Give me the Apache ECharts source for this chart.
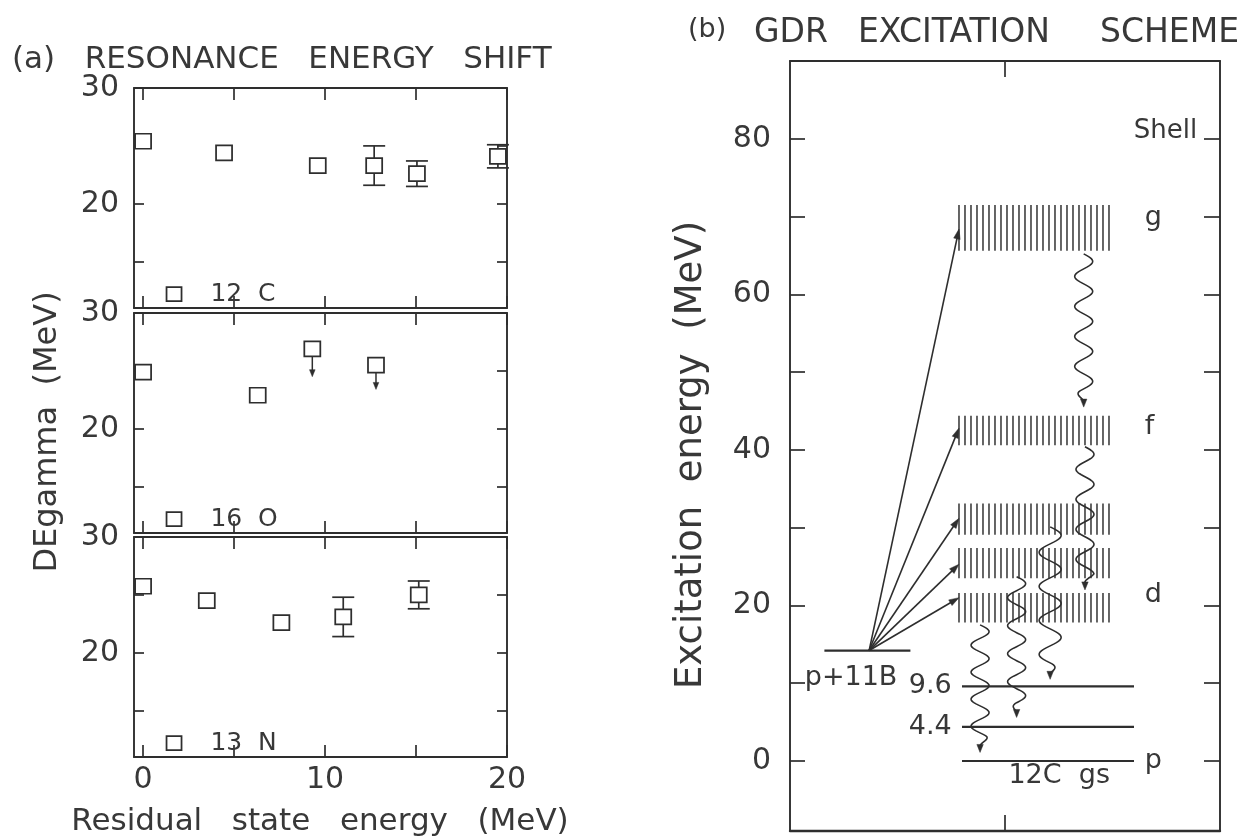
<!DOCTYPE html>
<html><head><meta charset="utf-8">
<script src="https://cdn.jsdelivr.net/npm/echarts@6/dist/echarts.min.js"></script>
<style>html,body{margin:0;padding:0;background:#fff}#c{width:1252px;height:836px}</style>
</head><body><div id="c"></div>
<script>
// ---------- panel (a): resonance energy shift ----------
const c12X = [0, 4.45, 9.6, 12.7, 15.05, 19.5];
const c12Y = [25.4, 24.4, 23.3, 23.3, 22.6, 24.1];
const c12Err = [0, 0, 0, 1.7, 1.1, 1.0];
const o16X = [0, 6.3, 9.3, 12.8];
const o16Y = [24.9, 22.9, 26.9, 25.5];
const o16Limit = [null, null, 24.5, 23.4];
const n13X = [0, 3.5, 7.6, 11.0, 15.15];
const n13Y = [25.75, 24.5, 22.6, 23.1, 25.0];
const n13Err = [0, 0, 0, 1.7, 1.2];
const nucleusNames = ['12  C', '16  O', '13  N'];
const nucleusMarkX = [1.7, 1.7, 1.7];
const nucleusMarkY = [12.2, 12.2, 12.2];
const xTicksA = [0, 5, 10, 15, 20];
const xLabelsA = [0, 10, 20];
const yTicksA = [15, 20, 25, 30];
const yLabelsA = [20, 30];

// ---------- panel (b): GDR excitation scheme ----------
const entranceLevel = 14.2;
const entranceX = [8, 28];
const residualLevels = [9.6, 4.4, 0];
const residualX = [40, 80];
const bandLow = [17.8, 23.5, 29.1, 40.6, 65.6];
const bandHigh = [21.6, 27.4, 33.1, 44.4, 71.5];
const bandX = [39.3, 74.6];
const excitationOriginX = 18.4;
const excitationTipX = 39.3;
const excitationTipY = [21.0, 25.3, 31.2, 42.8, 68.4];
const gammaX = [68.3, 68.6, 60.5, 52.7, 44.2];
const gammaFrom = [65.2, 40.4, 30.1, 23.7, 17.5];
const gammaTo = [45.5, 22.0, 10.5, 5.6, 1.1];
const yTicksB = [0, 10, 20, 30, 40, 50, 60, 70, 80];
const yLabelsB = [0, 20, 40, 60, 80];
const annText = ['p+11B', '9.6', '4.4', '12C  gs', 'p', 'd', 'f', 'g', 'Shell'];
const annX = [14.2, 37.6, 37.6, 62.6, 82.5, 82.5, 82.5, 82.5, 94.7];
const annY = [10.7, 9.6, 4.4, -1.95, 0, 21.3, 42.9, 69.8, 81];

// ---------- styling ----------
const FONT = 'DejaVu Sans';
const INK = '#2e2e2e';
const TXT = '#383838';
const annAlign = ['center', 'right', 'right', 'center', 'left', 'left', 'left', 'left', 'right'];
const waveAmp = [9, 9, 11, 9, 9];
const waveLen = [30, 30, 34, 28, 27];

const chart = echarts.init(document.getElementById('c'), null, {renderer: 'canvas'});

const grid = [], xAxis = [], yAxis = [], series = [];
const gridTopsA = [88, 313, 537];
const panelsA = [
  {x: c12X, y: c12Y, err: c12Err, lim: null},
  {x: o16X, y: o16Y, err: null, lim: o16Limit},
  {x: n13X, y: n13Y, err: n13Err, lim: null}
];
const axLine = {show: true, onZero: false, lineStyle: {color: INK, width: 1.9}};
function tick(vals, len) {
  return {show: true, inside: true, length: len, customValues: vals, lineStyle: {color: INK, width: 1.7}};
}
function lab(vals, margin) {
  return {show: true, customValues: vals, fontSize: 30, fontFamily: FONT, color: TXT, margin: margin};
}
function arrowHead(tx, ty, dx, dy, L, W) {
  const n = Math.hypot(dx, dy); dx /= n; dy /= n;
  const bx = tx - dx * L, by = ty - dy * L;
  return {type: 'polygon', shape: {points: [[tx, ty], [bx - dy * W, by + dx * W], [bx + dy * W, by - dx * W]]},
    style: {fill: INK, stroke: INK, lineWidth: 0.5}};
}

gridTopsA.forEach((top, i) => {
  grid.push({left: 134, top: top, width: 373, height: 220});
  xAxis.push({gridIndex: i, type: 'value', position: 'bottom', min: -0.5, max: 20,
    axisLine: axLine, axisTick: tick(xTicksA, 12),
    axisLabel: i === 2 ? lab(xLabelsA, 8) : {show: false}, splitLine: {show: false}});
  xAxis.push({gridIndex: i, type: 'value', position: 'top', min: -0.5, max: 20,
    axisLine: axLine, axisTick: tick(xTicksA, 12), axisLabel: {show: false}, splitLine: {show: false}});
  yAxis.push({gridIndex: i, type: 'value', position: 'left', min: 11, max: 30,
    axisLine: axLine, axisTick: tick(yTicksA, 10), axisLabel: lab(yLabelsA, 15), splitLine: {show: false}});
  yAxis.push({gridIndex: i, type: 'value', position: 'right', min: 11, max: 30,
    axisLine: axLine, axisTick: tick(yTicksA, 10), axisLabel: {show: false}, splitLine: {show: false}});

  const p = panelsA[i];
  if (p.err) {
    series.push({type: 'custom', xAxisIndex: 2 * i, yAxisIndex: 2 * i, z: 2,
      data: p.x.map((x, k) => [x, p.y[k], p.err[k]]).filter(d => d[2] > 0),
      renderItem: function (params, api) {
        const x = api.value(0), y = api.value(1), e = api.value(2);
        const t = api.coord([x, y + e]), b = api.coord([x, y - e]);
        const h = 11, st = {stroke: INK, lineWidth: 1.7};
        return {type: 'group', children: [
          {type: 'line', shape: {x1: t[0], y1: t[1], x2: b[0], y2: b[1]}, style: st},
          {type: 'line', shape: {x1: t[0] - h, y1: t[1], x2: t[0] + h, y2: t[1]}, style: st},
          {type: 'line', shape: {x1: b[0] - h, y1: b[1], x2: b[0] + h, y2: b[1]}, style: st}
        ]};
      }});
  }
  if (p.lim) {
    series.push({type: 'custom', xAxisIndex: 2 * i, yAxisIndex: 2 * i, z: 2,
      data: p.x.map((x, k) => [x, p.y[k], p.lim[k]]).filter(d => d[2] != null),
      renderItem: function (params, api) {
        const a = api.coord([api.value(0), api.value(1)]);
        const b = api.coord([api.value(0), api.value(2)]);
        return {type: 'group', children: [
          {type: 'line', shape: {x1: a[0], y1: a[1] + 7, x2: b[0], y2: b[1] - 5}, style: {stroke: INK, lineWidth: 1.5}},
          arrowHead(b[0], b[1], 0, 1, 7, 2.8)
        ]};
      }});
  }
  series.push({type: 'scatter', xAxisIndex: 2 * i, yAxisIndex: 2 * i, z: 3,
    symbol: 'rect', symbolSize: [16, 15],
    itemStyle: {color: '#fff', borderColor: INK, borderWidth: 1.7, opacity: 1},
    data: p.x.map((x, k) => [x, p.y[k]])});
  series.push({type: 'scatter', xAxisIndex: 2 * i, yAxisIndex: 2 * i, z: 3,
    symbol: 'rect', symbolSize: [15, 14],
    itemStyle: {color: '#fff', borderColor: INK, borderWidth: 1.7, opacity: 1},
    label: {show: true, position: 'right', distance: 28, formatter: nucleusNames[i],
      fontSize: 25, fontFamily: FONT, color: TXT},
    data: [[nucleusMarkX[i], nucleusMarkY[i]]]});
});

// ---------- panel (b) ----------
grid.push({left: 790, top: 61, width: 430, height: 770});
xAxis.push({gridIndex: 3, type: 'value', position: 'bottom', min: 0, max: 100,
  axisLine: {show: true, onZero: false, lineStyle: {color: INK, width: 2.4}}, axisTick: tick([50], 16),
  axisLabel: {show: false}, splitLine: {show: false}});
xAxis.push({gridIndex: 3, type: 'value', position: 'top', min: 0, max: 100,
  axisLine: axLine, axisTick: tick([50], 16), axisLabel: {show: false}, splitLine: {show: false}});
yAxis.push({gridIndex: 3, type: 'value', position: 'left', min: -9, max: 90,
  axisLine: axLine, axisTick: tick(yTicksB, 15), axisLabel: lab(yLabelsB, 19), splitLine: {show: false}});
yAxis.push({gridIndex: 3, type: 'value', position: 'right', min: -9, max: 90,
  axisLine: axLine, axisTick: tick(yTicksB, 16), axisLabel: {show: false}, splitLine: {show: false}});

const B = {xAxisIndex: 6, yAxisIndex: 6};

// hatched GDR bands
series.push(Object.assign({type: 'custom', z: 1,
  data: bandLow.map((lo, k) => [bandX[0], bandX[1], lo, bandHigh[k]]),
  renderItem: function (params, api) {
    const tl = api.coord([api.value(0), api.value(3)]);
    const br = api.coord([api.value(1), api.value(2)]);
    const ch = [];
    for (let x = tl[0]; x <= br[0] + 0.5; x += 6.0) {
      ch.push({type: 'line', shape: {x1: x, y1: tl[1], x2: x, y2: br[1]}, style: {stroke: '#333', lineWidth: 1.5}});
    }
    return {type: 'group', children: ch};
  }}, B));

// energy levels
series.push(Object.assign({type: 'custom', z: 2,
  data: [[entranceX[0], entranceX[1], entranceLevel]].concat(residualLevels.map(y => [residualX[0], residualX[1], y])),
  renderItem: function (params, api) {
    const a = api.coord([api.value(0), api.value(2)]);
    const b = api.coord([api.value(1), api.value(2)]);
    return {type: 'line', shape: {x1: a[0], y1: a[1], x2: b[0], y2: b[1]}, style: {stroke: INK, lineWidth: 2.2}};
  }}, B));

// excitation arrows
series.push(Object.assign({type: 'custom', z: 3,
  data: excitationTipY.map(y => [excitationOriginX, entranceLevel, excitationTipX, y]),
  renderItem: function (params, api) {
    const p0 = api.coord([api.value(0), api.value(1)]);
    const p1 = api.coord([api.value(2), api.value(3)]);
    const dx = p1[0] - p0[0], dy = p1[1] - p0[1], n = Math.hypot(dx, dy);
    return {type: 'group', children: [
      {type: 'line', shape: {x1: p0[0], y1: p0[1], x2: p1[0] - dx / n * 6, y2: p1[1] - dy / n * 6}, style: {stroke: INK, lineWidth: 1.6}},
      arrowHead(p1[0], p1[1], dx, dy, 10, 3.3)
    ]};
  }}, B));

// gamma decays (wavy arrows)
series.push(Object.assign({type: 'custom', z: 4,
  data: gammaX.map((x, k) => [x, gammaFrom[k], gammaTo[k]]),
  renderItem: function (params, api) {
    const k = params.dataIndex;
    const x = api.value(0);
    const p0 = api.coord([x, api.value(1)]);
    const p1 = api.coord([x, api.value(2)]);
    const len = p1[1] - p0[1] - 6;
    const A = waveAmp[k], lam = waveLen[k], pts = [];
    for (let t = 0; t <= len; t += 1) {
      const taper = Math.max(0, Math.min(1, (len - t) / 10));
      pts.push([p0[0] + A * taper * Math.sin(2 * Math.PI * t / lam), p0[1] + t]);
    }
    return {type: 'group', children: [
      {type: 'polyline', shape: {points: pts}, style: {stroke: INK, lineWidth: 1.6, fill: null}},
      arrowHead(p1[0], p1[1], 0, 1, 8, 3.2)
    ]};
  }}, B));

// annotations
series.push(Object.assign({type: 'custom', z: 5,
  data: annX.map((x, k) => [x, annY[k]]),
  renderItem: function (params, api) {
    const p = api.coord([api.value(0), api.value(1)]);
    const k = params.dataIndex;
    const fs = k === 8 ? 26 : 27;
    return {type: 'text', x: p[0], y: p[1],
      style: {text: annText[k], fill: TXT, font: fs + 'px "' + FONT + '"',
        align: annAlign[k], textAlign: annAlign[k], verticalAlign: 'middle', textVerticalAlign: 'middle'}};
  }}, B));

function txt(text, x, y, size, align, rot) {
  return {type: 'text', x: x, y: y, rotation: rot || 0, silent: true,
    style: {text: text, fill: TXT, font: size + 'px "' + FONT + '"',
      align: align, textAlign: align, verticalAlign: 'middle', textVerticalAlign: 'middle'}};
}

chart.setOption({
  animation: false,
  backgroundColor: '#fff',
  grid: grid, xAxis: xAxis, yAxis: yAxis, series: series,
  graphic: [
    txt('(a)   RESONANCE   ENERGY   SHIFT', 12, 60, 31, 'left'),
    txt('(b)', 688, 30, 27, 'left'),
    txt('GDR', 754, 33, 33, 'left'),
    txt('EXCITATION', 858, 33, 33, 'left'),
    txt('SCHEME', 1100, 33, 33, 'left'),
    txt('DEgamma  (MeV)', 48, 432, 32, 'center', Math.PI / 2),
    txt('Residual   state   energy   (MeV)', 320, 822, 31, 'center'),
    txt('Excitation  energy  (MeV)', 691, 455, 37, 'center', Math.PI / 2)
  ]
});
</script>
</body></html>
